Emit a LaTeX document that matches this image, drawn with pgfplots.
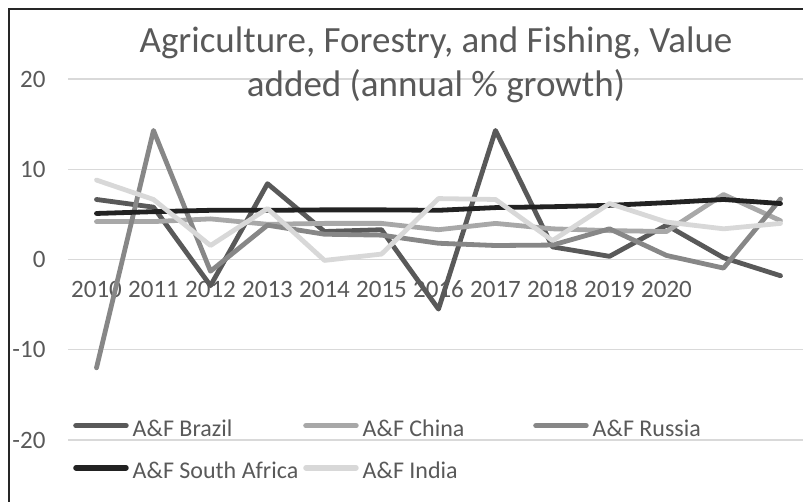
\documentclass[border=0pt]{standalone}
\usepackage{pgfplots}
\pgfplotsset{compat=1.18}
\usepackage{fontspec}
\setmainfont{Carlito}
\definecolor{cBrazil}{HTML}{595959}
\definecolor{cChina}{HTML}{A8A8A8}
\definecolor{cRussia}{HTML}{878787}
\definecolor{cSA}{HTML}{222222}
\definecolor{cIndia}{HTML}{D8D8D8}
\definecolor{gridc}{HTML}{D9D9D9}
\definecolor{labc}{HTML}{595959}
\definecolor{framec}{HTML}{262626}
\begin{document}
\begin{tikzpicture}[x=1pt,y=1pt]
\begin{axis}[
  scale only axis, width=741pt, height=361pt,
  at={(68pt,61pt)}, anchor=south west,
  xmin=0.5, xmax=13.5, ymin=-20, ymax=20,
  ytick={-20,-10,0,10,20},
  xtick={1,2,3,4,5,6,7,8,9,10,11},
  xticklabels={2010,2011,2012,2013,2014,2015,2016,2017,2018,2019,2020},
  axis x line*=middle, axis y line*=left,
  axis line style={draw=none},
  major tick length=0pt,
  ymajorgrids, grid style={color=gridc, line width=1.3pt},
  tick label style={font=\fontsize{25}{30}\selectfont, text=labc},
  /pgf/number format/assume math mode=true,
  yticklabel style={anchor=east, xshift=-19pt},
  xticklabel style={anchor=base, yshift=-38pt},
  every axis plot/.append style={line width=4.8pt, line join=round, line cap=round, mark=none},
  legend columns=3,
  legend style={at={(axis description cs:0.0068,0.057)}, anchor=north west,
    draw=none, fill=none, inner sep=0pt, row sep=24pt,
    font=\fontsize{24}{28}\selectfont, text=labc,
    nodes={inner sep=0pt},
    /tikz/every odd column/.style={column sep=4pt}},
  legend image code/.code={\draw[#1, line width=5.5pt, line cap=round] (2.5pt,0.3em) -- (52.5pt,0.3em);},
  legend cell align=left,
]
\addplot[color=cBrazil] coordinates {(1,6.65)(2,5.8)(3,-2.9)(4,8.4)(5,3.1)(6,3.3)(7,-5.5)(8,14.3)(9,1.4)(10,0.35)(11,3.8)(12,0.2)(13,-1.8)};
\addlegendentry{\makebox[170.5pt][l]{A\&F Brazil}}
\addplot[color=cChina] coordinates {(1,4.2)(2,4.2)(3,4.5)(4,3.9)(5,4.0)(6,4.0)(7,3.3)(8,4.0)(9,3.4)(10,3.2)(11,3.1)(12,7.2)(13,4.3)};
\addlegendentry{\makebox[170.5pt][l]{A\&F China}}
\addplot[color=cRussia] coordinates {(1,-12)(2,14.3)(3,-1.3)(4,3.8)(5,2.8)(6,2.7)(7,1.8)(8,1.55)(9,1.6)(10,3.4)(11,0.45)(12,-0.95)(13,6.7)};
\addlegendentry{\makebox[170.5pt][l]{A\&F Russia}}
\addplot[color=cSA] coordinates {(1,5.1)(2,5.3)(3,5.45)(4,5.45)(5,5.5)(6,5.5)(7,5.45)(8,5.75)(9,5.85)(10,6.0)(11,6.3)(12,6.65)(13,6.2)};
\addlegendentry{\makebox[170.5pt][l]{A\&F South Africa}}
\addplot[color=cIndia] coordinates {(1,8.8)(2,6.65)(3,1.55)(4,5.65)(5,-0.1)(6,0.6)(7,6.75)(8,6.65)(9,2.1)(10,6.2)(11,4.15)(12,3.4)(13,4.0)};
\addlegendentry{\makebox[170.5pt][l]{A\&F India}}
\end{axis}
\node[anchor=base, font=\fontsize{37}{44}\selectfont, text=labc] at (436pt,448pt) {Agriculture, Forestry, and Fishing, Value};
\node[anchor=base, font=\fontsize{37}{44}\selectfont, text=labc] at (436pt,404pt) {added (annual \% growth)};
\draw[line width=1.3pt, color=framec] (9pt,-5pt) -- (9pt,492pt) -- (820pt,492pt);
\pgfresetboundingbox
\path[use as bounding box] (0pt,0pt) rectangle (803pt,501pt);
\end{tikzpicture}
\end{document}
